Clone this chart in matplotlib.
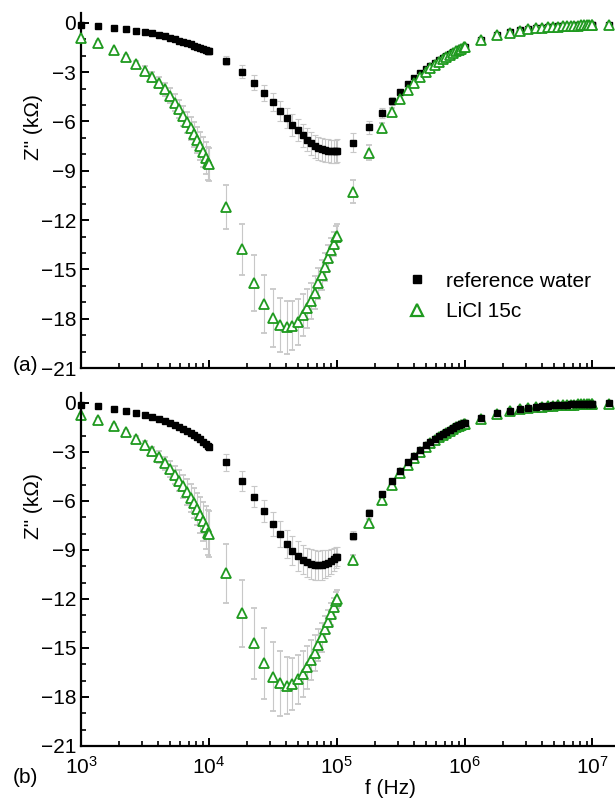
import numpy as np
import matplotlib.pyplot as plt
from matplotlib.lines import Line2D
from matplotlib.ticker import MultipleLocator, LogLocator, NullFormatter

plt.rcParams['font.family'] = ['Liberation Sans', 'DejaVu Sans']
plt.rcParams['mathtext.fontset'] = 'custom'
plt.rcParams['mathtext.rm'] = 'Liberation Sans'
plt.rcParams['mathtext.default'] = 'regular'

# frequency points (Hz)
freq = [1000, 1350, 1800, 2250, 2700, 3150, 3600, 4050, 4500, 4950, 5400,
        5850, 6300, 6750, 7200, 7650, 8100, 8550, 9000, 9450, 9900,
        1e4, 1.35e4, 1.8e4, 2.25e4, 2.7e4, 3.15e4, 3.6e4, 4.05e4, 4.5e4, 4.95e4, 5.4e4,
        5.85e4, 6.3e4, 6.75e4, 7.2e4, 7.65e4, 8.1e4, 8.55e4, 9.0e4, 9.45e4, 9.9e4,
        1e5, 1.35e5, 1.8e5, 2.25e5, 2.7e5, 3.15e5, 3.6e5, 4.05e5, 4.5e5, 4.95e5, 5.4e5,
        5.85e5, 6.3e5, 6.75e5, 7.2e5, 7.65e5, 8.1e5, 8.55e5, 9.0e5, 9.45e5, 9.9e5,
        1e6, 1.35e6, 1.8e6, 2.25e6, 2.7e6, 3.15e6, 3.6e6, 4.05e6, 4.5e6, 4.95e6, 5.4e6,
        5.85e6, 6.3e6, 6.75e6, 7.2e6, 7.65e6, 8.1e6, 8.55e6, 9.0e6, 9.45e6, 9.9e6,
        1e7, 1.35e7]

# (a) reference water, Z'' in kOhm
ref_a = [-0.1, -0.18, -0.3, -0.39, -0.47, -0.55, -0.62, -0.72, -0.82, -0.92, -1.0,
         -1.08, -1.16, -1.24, -1.31, -1.38, -1.45, -1.52, -1.58, -1.64, -1.7,
         -1.72, -2.29, -2.97, -3.65, -4.27, -4.84, -5.34, -5.8, -6.22, -6.53, -6.84,
         -7.1, -7.33, -7.5, -7.62, -7.7, -7.75, -7.78, -7.8, -7.8, -7.8,
         -7.78, -7.28, -6.35, -5.5, -4.77, -4.2, -3.71, -3.37, -3.06, -2.82, -2.62,
         -2.44, -2.27, -2.12, -1.99, -1.88, -1.78, -1.69, -1.61, -1.54, -1.47,
         -1.45, -1.02, -0.72, -0.58, -0.46, -0.37, -0.32, -0.29, -0.26, -0.24, -0.22,
         -0.2, -0.19, -0.18, -0.17, -0.16, -0.15, -0.14, -0.14, -0.13, -0.13,
         -0.13, -0.11]
ref_a_err = [0.05, 0.05, 0.05, 0.06, 0.06, 0.07, 0.07, 0.08, 0.08, 0.09, 0.1,
             0.1, 0.11, 0.12, 0.12, 0.13, 0.14, 0.15, 0.16, 0.18, 0.2,
             0.2, 0.3, 0.4, 0.45, 0.5, 0.55, 0.6, 0.62, 0.65, 0.68, 0.7,
             0.7, 0.7, 0.7, 0.7, 0.7, 0.7, 0.7, 0.7, 0.7, 0.7,
             0.7, 0.6, 0.4, 0.3, 0.25, 0.2, 0.15, 0.12, 0.1, 0.1, 0.08,
             0.08, 0.07, 0.07, 0.06, 0.06, 0.06, 0.05, 0.05, 0.05, 0.05,
             0.05, 0.05, 0.05, 0.05, 0.05, 0.05, 0.05, 0.05, 0.05, 0.05, 0.05,
             0.05, 0.05, 0.05, 0.05, 0.05, 0.05, 0.05, 0.05, 0.05, 0.05,
             0.05, 0.05]

# (a) LiCl 15c
licl_a = [-0.93, -1.2, -1.68, -2.09, -2.5, -2.9, -3.27, -3.63, -4.04, -4.44, -4.85,
          -5.25, -5.66, -6.05, -6.42, -6.78, -7.14, -7.5, -7.87, -8.22, -8.55,
          -8.6, -11.22, -13.77, -15.8, -17.1, -17.97, -18.38, -18.52, -18.42, -18.18, -17.77,
          -17.37, -16.9, -16.41, -15.84, -15.34, -14.83, -14.32, -13.82, -13.45, -13.04,
          -12.95, -10.27, -7.9, -6.41, -5.4, -4.65, -4.08, -3.63, -3.27, -2.98, -2.75,
          -2.55, -2.37, -2.2, -2.06, -1.94, -1.83, -1.73, -1.64, -1.56, -1.49,
          -1.48, -1.03, -0.73, -0.59, -0.47, -0.38, -0.33, -0.3, -0.27, -0.25, -0.23,
          -0.21, -0.2, -0.19, -0.18, -0.17, -0.16, -0.15, -0.15, -0.14, -0.14,
          -0.14, -0.12]
licl_a_err = [0.05, 0.1, 0.12, 0.15, 0.2, 0.25, 0.3, 0.35, 0.4, 0.45, 0.5,
              0.55, 0.6, 0.65, 0.7, 0.75, 0.8, 0.85, 0.9, 0.95, 1.0,
              1.0, 1.33, 1.55, 1.7, 1.77, 1.75, 1.67, 1.6, 1.5, 1.4, 1.3,
              1.2, 1.1, 1.0, 0.95, 0.9, 0.85, 0.8, 0.75, 0.72, 0.7,
              0.7, 0.7, 0.45, 0.3, 0.2, 0.15, 0.12, 0.1, 0.08, 0.08, 0.07,
              0.07, 0.06, 0.06, 0.06, 0.05, 0.05, 0.05, 0.05, 0.05, 0.05,
              0.05, 0.05, 0.05, 0.05, 0.05, 0.05, 0.05, 0.05, 0.05, 0.05, 0.05,
              0.05, 0.05, 0.05, 0.05, 0.05, 0.05, 0.05, 0.05, 0.05, 0.05,
              0.05, 0.05]

# (b) reference water
ref_b = [-0.1, -0.18, -0.37, -0.49, -0.63, -0.73, -0.88, -1.0, -1.12, -1.24, -1.36,
         -1.48, -1.6, -1.72, -1.84, -1.96, -2.08, -2.2, -2.36, -2.5, -2.64,
         -2.7, -3.63, -4.76, -5.74, -6.61, -7.41, -8.04, -8.63, -9.04, -9.37, -9.6,
         -9.75, -9.85, -9.92, -9.95, -9.93, -9.88, -9.8, -9.7, -9.58, -9.45,
         -9.4, -8.12, -6.71, -5.59, -4.78, -4.15, -3.63, -3.25, -2.88, -2.6, -2.38,
         -2.19, -2.02, -1.88, -1.75, -1.63, -1.53, -1.44, -1.36, -1.3, -1.25,
         -1.24, -0.94, -0.62, -0.47, -0.36, -0.29, -0.24, -0.2, -0.17, -0.15, -0.13,
         -0.11, -0.1, -0.09, -0.08, -0.07, -0.06, -0.05, -0.05, -0.04, -0.04,
         -0.04, -0.03]
ref_b_err = [0.05, 0.05, 0.06, 0.06, 0.07, 0.07, 0.08, 0.08, 0.09, 0.1, 0.1,
             0.11, 0.12, 0.13, 0.14, 0.15, 0.16, 0.17, 0.18, 0.19, 0.2,
             0.2, 0.52, 0.6, 0.65, 0.7, 0.75, 0.8, 0.85, 0.9, 0.9, 0.9,
             0.9, 0.9, 0.9, 0.9, 0.9, 0.85, 0.8, 0.75, 0.7, 0.65,
             0.6, 0.3, 0.2, 0.15, 0.1, 0.1, 0.08, 0.08, 0.07, 0.07, 0.06,
             0.06, 0.05, 0.05, 0.05, 0.05, 0.05, 0.05, 0.05, 0.05, 0.05,
             0.05, 0.05, 0.05, 0.05, 0.05, 0.05, 0.05, 0.05, 0.05, 0.05, 0.05,
             0.05, 0.05, 0.05, 0.05, 0.05, 0.05, 0.05, 0.05, 0.05, 0.05,
             0.05, 0.05]

# (b) LiCl 15c
licl_b = [-0.75, -1.05, -1.38, -1.8, -2.2, -2.6, -2.97, -3.3, -3.7, -4.05, -4.4,
          -4.75, -5.1, -5.45, -5.8, -6.15, -6.5, -6.87, -7.25, -7.62, -7.95,
          -8.0, -10.43, -12.88, -14.72, -15.94, -16.76, -17.17, -17.31, -17.2, -16.92, -16.6,
          -16.19, -15.74, -15.29, -14.82, -14.35, -13.86, -13.39, -12.92, -12.51, -12.1,
          -12.0, -9.61, -7.33, -5.94, -5.02, -4.31, -3.78, -3.36, -2.98, -2.69, -2.46,
          -2.26, -2.09, -1.94, -1.81, -1.69, -1.59, -1.5, -1.42, -1.35, -1.3,
          -1.28, -0.97, -0.65, -0.5, -0.39, -0.31, -0.26, -0.22, -0.19, -0.17, -0.15,
          -0.13, -0.12, -0.11, -0.1, -0.09, -0.08, -0.07, -0.07, -0.06, -0.06,
          -0.06, -0.05]
licl_b_err = [0.05, 0.1, 0.12, 0.15, 0.2, 0.25, 0.3, 0.35, 0.42, 0.5, 0.56,
              0.62, 0.7, 0.78, 0.85, 0.92, 1.0, 1.1, 1.2, 1.3, 1.38,
              1.4, 1.8, 2.07, 2.17, 2.17, 2.1, 1.97, 1.75, 1.6, 1.5, 1.4,
              1.3, 1.2, 1.1, 1.0, 0.9, 0.8, 0.7, 0.65, 0.6, 0.55,
              0.55, 0.3, 0.2, 0.15, 0.1, 0.1, 0.08, 0.08, 0.07, 0.07, 0.06,
              0.06, 0.05, 0.05, 0.05, 0.05, 0.05, 0.05, 0.05, 0.05, 0.05,
              0.05, 0.05, 0.05, 0.05, 0.05, 0.05, 0.05, 0.05, 0.05, 0.05, 0.05,
              0.05, 0.05, 0.05, 0.05, 0.05, 0.05, 0.05, 0.05, 0.05, 0.05,
              0.05, 0.05]

green = '#1f9a1f'
errc = '#c8c8c8'
fs = 15

fig = plt.figure(figsize=(6.15, 7.98), dpi=100)
ax1 = fig.add_axes([0.1317, 0.5388, 0.8683, 0.4449])
ax2 = fig.add_axes([0.1317, 0.0652, 0.8683, 0.4421])


def style_axis(ax):
    ax.set_xscale('log')
    ax.set_xlim(1e3, 1.5e7)
    ax.set_ylim(-21, 0.6)
    ax.spines['top'].set_visible(False)
    ax.spines['right'].set_visible(False)
    ax.spines['left'].set_linewidth(1.6)
    ax.spines['bottom'].set_linewidth(1.6)
    ax.yaxis.set_major_locator(MultipleLocator(3))
    ax.yaxis.set_minor_locator(MultipleLocator(1))
    ax.xaxis.set_major_locator(LogLocator(base=10, numticks=10))
    ax.xaxis.set_minor_locator(LogLocator(base=10, subs=np.arange(2, 10), numticks=20))
    ax.xaxis.set_minor_formatter(NullFormatter())
    ax.tick_params(which='major', direction='in', length=6, width=1.4, labelsize=fs)
    ax.tick_params(which='minor', direction='in', length=3.5, width=1.2)
    ax.set_ylabel('Z" (kΩ)', fontsize=fs)
    ax.yaxis.set_label_coords(-0.072, 0.68)


for ax in (ax1, ax2):
    style_axis(ax)

# panel (a): triangles on top of squares, white filled
ax1.errorbar(freq, ref_a, yerr=ref_a_err, fmt='s', ms=4.5, color='black', mec='black',
             ecolor=errc, elinewidth=0.8, capsize=2.5, capthick=0.8, zorder=2,
             clip_on=False)
ax1.errorbar(freq, licl_a, yerr=licl_a_err, fmt='^', ms=6.5, mfc='white', mec=green,
             mew=1.3, ecolor=errc, elinewidth=0.8, capsize=2.5, capthick=0.8, zorder=3,
             clip_on=False)
ax1.tick_params(axis='x', labelbottom=False)

handles = [Line2D([], [], ls='none', marker='s', ms=5.5, color='black'),
           Line2D([], [], ls='none', marker='^', ms=8.5, mfc='white', mec=green, mew=1.6)]
ax1.legend(handles, ['reference water', 'LiCl 15c'], loc='center left',
           bbox_to_anchor=(0.57, 0.202), frameon=False, fontsize=fs,
           handletextpad=0.8, labelspacing=0.55, handlelength=1.2)

# panel (b): squares on top of triangles
ax2.errorbar(freq, licl_b, yerr=licl_b_err, fmt='^', ms=6.5, mfc='white', mec=green,
             mew=1.3, ecolor=errc, elinewidth=0.8, capsize=2.5, capthick=0.8, zorder=2,
             clip_on=False)
ax2.errorbar(freq, ref_b, yerr=ref_b_err, fmt='s', ms=4.5, color='black', mec='black',
             ecolor=errc, elinewidth=0.8, capsize=2.5, capthick=0.8, zorder=3,
             clip_on=False)
ax2.set_xlabel('f (Hz)', fontsize=fs)
ax2.xaxis.set_label_coords(0.579, -0.093)
ax2.tick_params(axis='x', pad=7)

fig.text(0.02, 0.542, '(a)', fontsize=fs, va='center')
fig.text(0.02, 0.026, '(b)', fontsize=fs, va='center')

plt.savefig('out.png', dpi=100)
